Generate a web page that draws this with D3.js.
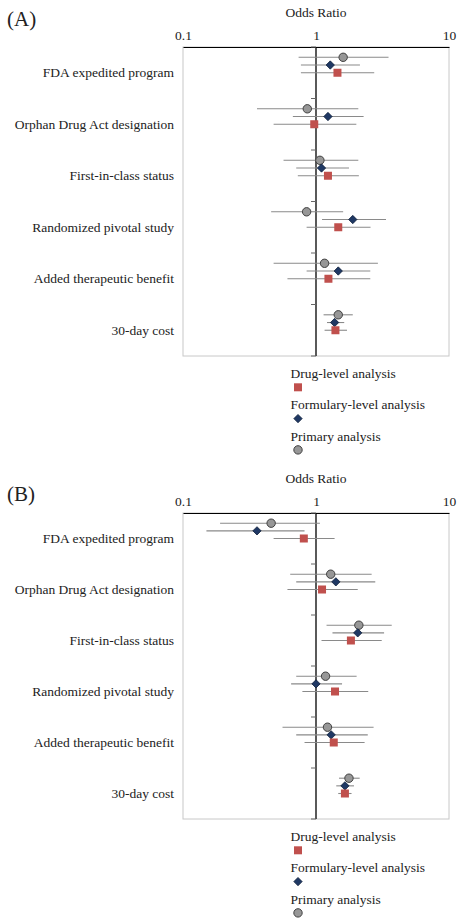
<!DOCTYPE html>
<html>
<head>
<meta charset="utf-8">
<script src="https://cdn.jsdelivr.net/npm/d3@7"></script>
<style>
  body { margin: 0; background: #fff; }
  svg text { font-family: "Liberation Serif", Tinos, "Times New Roman", "DejaVu Serif", serif; fill: #222; }
</style>
</head>
<body>
<div id="chart"></div>
<script>
// Categories (top to bottom)
const categories = [
    "FDA expedited program",
    "Orphan Drug Act designation",
    "First-in-class status",
    "Randomized pivotal study",
    "Added therapeutic benefit",
    "30-day cost"
];

// Each entry: [odds ratio, lower CI, upper CI]
const aDrug = [[1.45, 0.77, 2.74], [0.97, 0.48, 2.01], [1.23, 0.73, 2.10], [1.47, 0.85, 2.57], [1.24, 0.61, 2.56], [1.40, 1.16, 1.71]];
const aFormulary = [[1.28, 0.77, 2.14], [1.23, 0.67, 2.28], [1.10, 0.71, 1.77], [1.89, 1.11, 3.36], [1.47, 0.85, 2.56], [1.38, 1.21, 1.63]];
const aPrimary = [[1.60, 0.74, 3.51], [0.86, 0.36, 2.08], [1.07, 0.57, 2.08], [0.85, 0.46, 1.60], [1.16, 0.48, 2.92], [1.47, 1.14, 1.89]];

const bDrug = [[0.81, 0.48, 1.38], [1.11, 0.61, 2.06], [1.83, 1.10, 3.12], [1.39, 0.79, 2.47], [1.36, 0.82, 2.32], [1.65, 1.47, 1.85]];
const bFormulary = [[0.36, 0.15, 0.82], [1.41, 0.71, 2.79], [2.06, 1.33, 3.25], [1.00, 0.65, 1.57], [1.30, 0.71, 2.45], [1.65, 1.42, 1.93]];
const bPrimary = [[0.46, 0.19, 1.07], [1.29, 0.64, 2.62], [2.10, 1.20, 3.71], [1.18, 0.71, 2.02], [1.22, 0.56, 2.71], [1.77, 1.49, 2.13]];

const tickValues = [0.1, 1, 10];
const tickLabels = ["0.1", "1", "10"];
const seriesNames = ["Drug-level analysis", "Formulary-level analysis", "Primary analysis"];

const fontFamily = '"Liberation Serif", Tinos, "Times New Roman", "DejaVu Serif", serif';

const width = 457, height = 919;
const svg = d3.select("#chart").append("svg")
    .attr("width", width)
    .attr("height", height)
    .attr("font-family", fontFamily);

const colors = {drug: "#c0504d", formulary: "#1f3864", primary: "#979797"};

const panels = [
    {letter: "(A)", letterY: 19, top: 47, bottom: 356, drug: aDrug, formulary: aFormulary, primary: aPrimary},
    {letter: "(B)", letterY: 494, top: 513, bottom: 819, drug: bDrug, formulary: bFormulary, primary: bPrimary}
];

function drawMarker(g, type, x, y) {
    if (type === "drug") {
        g.append("rect")
            .attr("x", x - 4).attr("y", y - 4)
            .attr("width", 8).attr("height", 8)
            .attr("fill", colors.drug);
    } else if (type === "formulary") {
        g.append("path")
            .attr("d", d3.symbol(d3.symbolDiamond2, 44)())
            .attr("transform", `translate(${x},${y})`)
            .attr("fill", colors.formulary)
            .attr("stroke", "#0f1f3a")
            .attr("stroke-width", 0.8);
    } else {
        g.append("circle")
            .attr("cx", x).attr("cy", y).attr("r", 4.2)
            .attr("fill", colors.primary)
            .attr("stroke", "#404040")
            .attr("stroke-width", 1);
    }
}

panels.forEach(p => {
    const g = svg.append("g");

    const x = d3.scaleLog()
        .domain([0.1, 10])
        .range([183, 449]);

    const y = d3.scaleLinear()
        .domain([0, categories.length])
        .range([p.top, p.bottom]);

    // Panel letter
    g.append("text")
        .attr("x", 7)
        .attr("y", p.letterY)
        .attr("dominant-baseline", "central")
        .attr("font-family", fontFamily)
        .attr("font-size", 21)
        .text(p.letter);

    // Axis title
    g.append("text")
        .attr("x", x(1))
        .attr("y", p.top - 30)
        .attr("text-anchor", "middle")
        .attr("font-family", fontFamily)
        .attr("font-size", 13.5)
        .text("Odds Ratio");

    // Plot frame
    g.append("rect")
        .attr("x", x(0.1)).attr("y", p.top)
        .attr("width", x(10) - x(0.1))
        .attr("height", p.bottom - p.top)
        .attr("fill", "none")
        .attr("stroke", "#c8c8c8")
        .attr("stroke-width", 1);

    // Top axis
    const axis = g.append("g")
        .attr("transform", `translate(0,${p.top})`)
        .call(d3.axisTop(x).tickValues(tickValues).tickFormat((d, i) => tickLabels[i]).tickSize(0).tickPadding(7))
        .attr("font-family", fontFamily);
    axis.select(".domain").attr("stroke", "#000").attr("stroke-width", 1.2);
    axis.selectAll("text")
        .attr("font-family", fontFamily)
        .attr("font-size", 13.5)
        .attr("fill", "#222");

    // Reference line at OR = 1
    g.append("line")
        .attr("x1", x(1)).attr("x2", x(1))
        .attr("y1", p.top).attr("y2", p.bottom)
        .attr("stroke", "#000")
        .attr("stroke-width", 1.3);

    // Category boundary ticks on the reference line
    g.selectAll(".cat-tick")
        .data(d3.range(categories.length + 1))
        .enter().append("line")
        .attr("x1", x(1) - 5).attr("x2", x(1))
        .attr("y1", d => y(d)).attr("y2", d => y(d))
        .attr("stroke", "#666")
        .attr("stroke-width", 1);

    // Category labels
    g.selectAll(".cat-label")
        .data(categories)
        .enter().append("text")
        .attr("x", 174)
        .attr("y", (d, i) => y(i + 0.5))
        .attr("dy", "0.35em")
        .attr("text-anchor", "end")
        .attr("font-family", fontFamily)
        .attr("font-size", 13.5)
        .text(d => d);

    // Series: offset within each category band
    const series = [
        {key: "primary", data: p.primary, offset: 0.2},
        {key: "formulary", data: p.formulary, offset: 0.35},
        {key: "drug", data: p.drug, offset: 0.5}
    ];

    series.forEach(s => {
        g.selectAll(null)
            .data(s.data)
            .enter().append("line")
            .attr("x1", d => x(d[1])).attr("x2", d => x(d[2]))
            .attr("y1", (d, i) => y(i + s.offset))
            .attr("y2", (d, i) => y(i + s.offset))
            .attr("stroke", "#8a8a8a")
            .attr("stroke-width", 1.1);
    });

    series.forEach(s => {
        s.data.forEach((d, i) => drawMarker(g, s.key, x(d[0]), y(i + s.offset)));
    });

    // Legend
    const legendKeys = ["drug", "formulary", "primary"];
    legendKeys.forEach((k, i) => {
        const base = p.bottom + 22 + i * 31.3;
        g.append("text")
            .attr("x", 290.5)
            .attr("y", base)
            .attr("font-family", fontFamily)
            .attr("font-size", 13.5)
            .text(seriesNames[i]);
        drawMarker(g, k, 298, base + 9.3);
    });
});
</script>
</body>
</html>
